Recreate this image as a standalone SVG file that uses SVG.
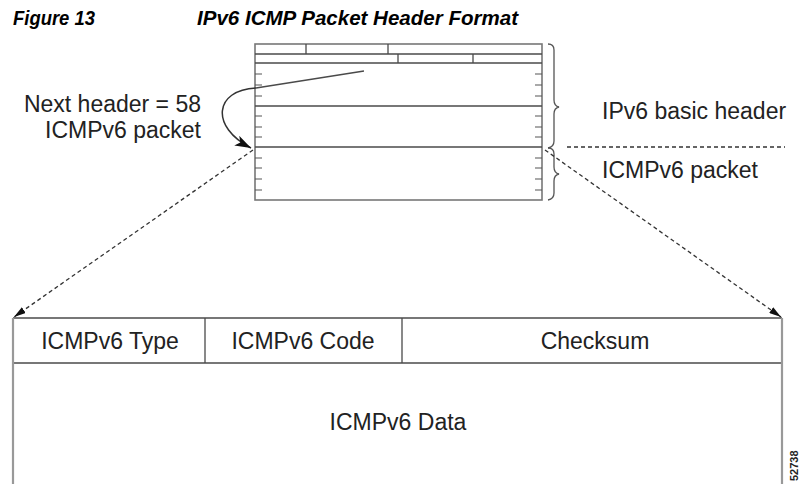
<svg xmlns="http://www.w3.org/2000/svg" width="803" height="484" viewBox="0 0 803 484">
<style>
text{font-family:"Liberation Sans",Arial,sans-serif;fill:#222}
.lbl{font-size:23px}
.title{font-size:20px;font-weight:bold;font-style:italic;fill:#000}
.ln{stroke:#4a4a4a;stroke-width:1.3;fill:none}
.bd{stroke:#777;stroke-width:1.6;fill:none}
.tk{stroke:#555;stroke-width:1.2}
.dash{stroke:#333;stroke-width:1.3;stroke-dasharray:4 3;fill:none}
.brace{stroke:#555;stroke-width:1.3;fill:none}
</style>
<defs>
<marker id="ah" viewBox="0 0 12 7" refX="12" refY="3.5" markerWidth="12" markerHeight="7" markerUnits="userSpaceOnUse" orient="auto">
<path d="M0,0 L12,3.5 L0,7 z" fill="#111"/>
</marker>
<marker id="ahBig" viewBox="0 0 16 11" refX="16" refY="5.5" markerWidth="16" markerHeight="11" markerUnits="userSpaceOnUse" orient="auto">
<path d="M0,0 L16,5.5 L0,11 L4,5.5 z" fill="#111"/>
</marker>
</defs>
<rect width="803" height="484" fill="#fff"/>
<g id="title">
<text class="title" x="13" y="25" textLength="82" lengthAdjust="spacingAndGlyphs">Figure 13</text>
<text class="title" x="197" y="25" textLength="321" lengthAdjust="spacingAndGlyphs">IPv6 ICMP Packet Header Format</text>
</g>
<g id="ipv6-header">
<rect class="bd" x="255" y="44" width="287" height="156"/>
<line class="ln" x1="255" y1="54" x2="542" y2="54"/>
<line class="ln" x1="255" y1="63" x2="542" y2="63"/>
<line class="ln" x1="255" y1="106" x2="542" y2="106"/>
<line class="ln" x1="255" y1="147" x2="542" y2="147"/>
<line class="ln" x1="306" y1="44" x2="306" y2="54"/>
<line class="ln" x1="388" y1="44" x2="388" y2="54"/>
<line class="ln" x1="398" y1="54" x2="398" y2="63"/>
<line class="ln" x1="473" y1="54" x2="473" y2="63"/>
<g class="tk">
<path d="M255 74H262M255 85H262M255 96H262M255 116H262M255 127H262M255 137H262M255 158H262M255 168H262M255 179H262M255 190H262"/>
<path d="M535 74H542M535 85H542M535 96H542M535 116H542M535 127H542M535 137H542M535 158H542M535 168H542M535 179H542M535 190H542"/>
</g>
</g>
<g id="braces">
<path class="brace" d="M548 44 Q554 44 554 50 L554 100 Q554 106 559 107 Q554 108 554 114 L554 141 Q554 147 548 148"/>
<path class="brace" d="M548 148 Q554 148 554 154 L554 167 Q554 173 559 174 Q554 175 554 181 L554 193 Q554 199 548 200"/>
</g>
<g id="labels">
<text class="lbl" x="201" y="112" text-anchor="end">Next header = 58</text>
<text class="lbl" x="201" y="138" text-anchor="end">ICMPv6 packet</text>
<text class="lbl" x="602" y="119">IPv6 basic header</text>
<text class="lbl" x="602" y="178">ICMPv6 packet</text>
</g>
<g id="icmp-packet">
<line class="ln" x1="13" y1="318" x2="782" y2="318"/>
<line class="ln" x1="13" y1="363" x2="782" y2="363"/>
<line x1="13" y1="318" x2="13" y2="484" stroke="#999" stroke-width="2.2"/>
<line x1="782" y1="318" x2="782" y2="484" stroke="#999" stroke-width="2.2"/>
<line class="ln" x1="205" y1="318" x2="205" y2="363"/>
<line class="ln" x1="402" y1="318" x2="402" y2="363"/>
<text class="lbl" x="110" y="349" text-anchor="middle">ICMPv6 Type</text>
<text class="lbl" x="303" y="349" text-anchor="middle">ICMPv6 Code</text>
<text class="lbl" x="595" y="349" text-anchor="middle">Checksum</text>
<text class="lbl" x="398" y="430" text-anchor="middle">ICMPv6 Data</text>
</g>
<g id="connectors">
<path class="ln" d="M256 88 L364 71"/>
<path d="M256 88 C214 90 210 127 251 148" stroke="#333" stroke-width="1.5" fill="none" marker-end="url(#ahBig)"/>
<path class="dash" d="M253 150 L14 317" marker-end="url(#ah)"/>
<path class="dash" d="M545 150 L781 317" marker-end="url(#ah)"/>
<path class="dash" d="M567 147 L785 147"/>
</g>
<text x="798" y="481" transform="rotate(-90 798 481)" font-size="11" font-weight="bold" fill="#333">52738</text>
</svg>
